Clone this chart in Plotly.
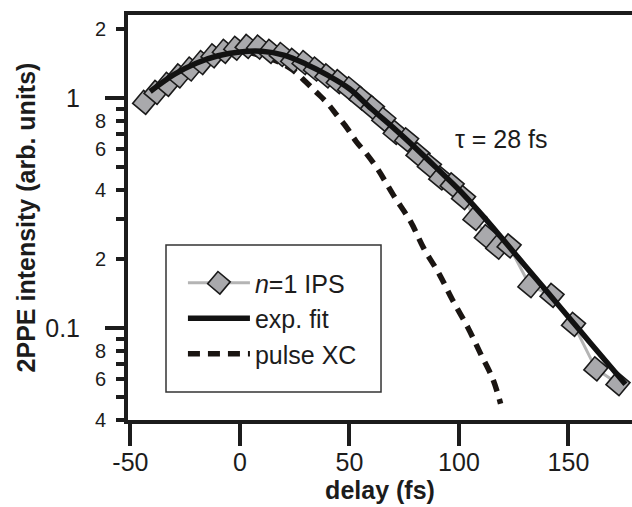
import plotly.graph_objects as go

# ---- data ----
delay_fs = [-43.5, -38.3, -33.1, -27.9, -22.7, -17.5, -12.3, -7.1, -1.9, 3.3,
            8.5, 13.7, 18.9, 24.1, 29.3, 34.5, 39.7, 44.9, 50.1, 55.3,
            60.5, 65.7, 70.9, 76.1, 81.3, 86.5, 91.7, 96.9, 102.1, 107.3,
            112.5, 117.7, 122.9, 132.4, 142.5, 152.3, 162.5, 172.6]
ips_intensity = [0.96, 1.06, 1.15, 1.25, 1.34, 1.43, 1.53, 1.60, 1.65, 1.68,
                 1.67, 1.60, 1.55, 1.46, 1.43, 1.34, 1.25, 1.18, 1.10, 1.00,
                 0.91, 0.81, 0.71, 0.66, 0.57, 0.51, 0.45, 0.42, 0.37, 0.30,
                 0.25, 0.225, 0.228, 0.153, 0.139, 0.104, 0.0666, 0.0574]

fit_delay = [-41, -35, -30, -20, -10, 0, 10, 20, 30, 40, 50, 60, 70, 80, 90,
             100, 110, 120, 130, 140, 150, 160, 170, 176]
fit_intensity = [1.07, 1.18, 1.27, 1.42, 1.53, 1.59, 1.60, 1.54, 1.41, 1.26,
                 1.10, 0.90, 0.745, 0.61, 0.495, 0.40, 0.315, 0.244, 0.188, 0.145,
                 0.112, 0.0863, 0.0666, 0.0571]

xc_delay = [-30, -20, -10, 0, 10, 17, 24, 30, 35, 40, 44, 49, 53, 58, 63, 70,
            78, 84, 91, 97, 104, 110, 115.5, 119]
xc_intensity = [1.24, 1.42, 1.55, 1.60, 1.53, 1.45, 1.33, 1.18, 1.06, 0.95,
                0.85, 0.74, 0.65, 0.57, 0.49, 0.38, 0.29, 0.222, 0.172, 0.133,
                0.101, 0.077, 0.060, 0.047]

minor_tickvals = [0.04, 0.05, 0.06, 0.07, 0.08, 0.09,
                  0.2, 0.3, 0.4, 0.5, 0.6, 0.7, 0.8, 0.9, 2]
minor_ticktext = ["4", "", "6", "", "8", "",
                  "2", "", "4", "", "6", "", "8", "", "2"]
major_tickvals = [0.1, 1]
major_ticktext = ["0.1", "1"]
x_tickvals = [-50, 0, 50, 100, 150]
x_ticktext = ["-50", "0", "50", "100", "150"]

FONT = "Liberation Sans, Arial, sans-serif"
INK = "#1c1c1c"
Y_RANGE = [-1.399, 0.362]

fig = go.Figure()

fig.add_trace(go.Scatter(
    x=xc_delay, y=xc_intensity, mode="lines", name="pulse XC",
    line=dict(color="#1a1512", width=5.5, dash="12px,8px", shape="spline"),
    legendrank=3))

fig.add_trace(go.Scatter(
    x=delay_fs, y=ips_intensity, mode="lines+markers", name="<i>n</i>=1 IPS",
    line=dict(color="#b4b4b4", width=3),
    marker=dict(symbol="square", angle=40, size=17, color="#a9a9ac",
                line=dict(color="#1a1a1a", width=1.6)),
    legendrank=1))

# fit is drawn on the overlaid (identical) log axis so that it sits on top
fig.add_trace(go.Scatter(
    x=fit_delay, y=fit_intensity, mode="lines", name="exp. fit",
    line=dict(color="#121212", width=5.5, shape="spline"),
    yaxis="y2", legendrank=2))

# legend frame (plot-area fraction coordinates)
fig.add_shape(type="rect", xref="paper", yref="paper",
              x0=0.0754, x1=0.502, y0=0.069, y1=0.432,
              line=dict(color="#333333", width=1.5), fillcolor="rgba(0,0,0,0)",
              layer="above")

fig.update_layout(
    width=632, height=507,
    margin=dict(l=128, r=0, t=15, b=87),
    paper_bgcolor="white", plot_bgcolor="white",
    font=dict(family=FONT, color=INK, size=25),
    showlegend=True,
    legend=dict(x=0.109, y=0.395, xanchor="left", yanchor="top",
                bgcolor="rgba(0,0,0,0)", borderwidth=0,
                font=dict(family=FONT, size=25, color=INK),
                itemwidth=62, tracegroupgap=0),
    xaxis=dict(range=[-51.1, 179.0], tickvals=x_tickvals, ticktext=x_ticktext,
               ticks="outside", ticklen=22, tickwidth=4, tickcolor=INK,
               ticklabelstandoff=-5,
               showline=True, linewidth=4, linecolor=INK, mirror=True,
               showgrid=False, zeroline=False,
               tickfont=dict(family=FONT, size=25, color=INK),
               title=dict(text="delay (fs)", standoff=4,
                          font=dict(family=FONT, size=25, color=INK, weight="bold")),
               automargin=False),
    yaxis=dict(type="log", range=Y_RANGE,
               tickvals=minor_tickvals, ticktext=minor_ticktext,
               ticks="outside", ticklen=8, tickwidth=4, tickcolor=INK,
               ticklabelstandoff=6,
               showline=True, linewidth=4, linecolor=INK, mirror=False,
               showgrid=False, zeroline=False,
               tickfont=dict(family=FONT, size=20, color=INK),
               automargin=False),
    yaxis2=dict(type="log", range=Y_RANGE, overlaying="y", side="left",
                anchor="x",
                tickvals=major_tickvals, ticktext=major_ticktext,
                ticks="outside", ticklen=22, tickwidth=4, tickcolor=INK,
                ticklabelstandoff=20,
                showline=False, showgrid=False, zeroline=False,
                tickfont=dict(family=FONT, size=25, color=INK),
                title=dict(text="2PPE intensity (arb. units)", standoff=2,
                           font=dict(family=FONT, size=25, color=INK, weight="bold")),
                automargin=False),
    annotations=[dict(x=119.6, y=-0.177, xref="x", yref="y",
                      text="τ = 28 fs", showarrow=False,
                      font=dict(family=FONT, size=25, color=INK))],
)

fig.write_html("out.html")
